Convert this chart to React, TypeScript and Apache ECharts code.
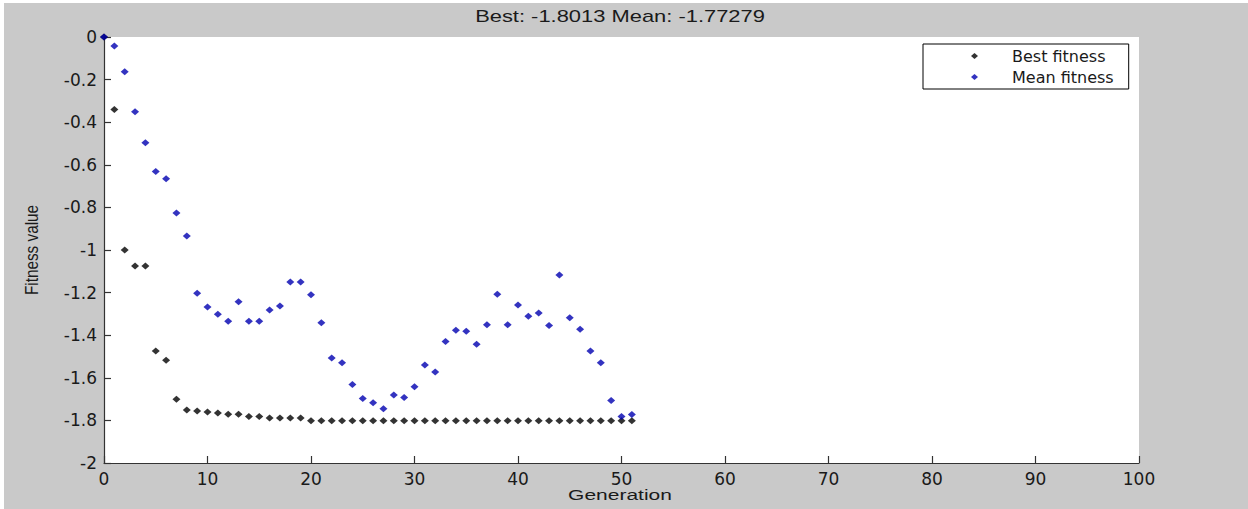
import React, { useEffect, useRef } from "react";
import * as echarts from "echarts";

const titleText = "Best: -1.8013 Mean: -1.77279";
const xName = "Generation";
const yName = "Fitness value";
const seriesNames = ["Best fitness", "Mean fitness"];

const bestFitness = [
  0, -0.34, -1.0, -1.075, -1.075, -1.474, -1.518, -1.701, -1.751, -1.756,
  -1.761, -1.765, -1.771, -1.771, -1.782, -1.782, -1.789, -1.789, -1.789, -1.789,
  -1.8013, -1.8013, -1.8013, -1.8013, -1.8013, -1.8013, -1.8013, -1.8013, -1.8013, -1.8013,
  -1.8013, -1.8013, -1.8013, -1.8013, -1.8013, -1.8013, -1.8013, -1.8013, -1.8013, -1.8013,
  -1.8013, -1.8013, -1.8013, -1.8013, -1.8013, -1.8013, -1.8013, -1.8013, -1.8013, -1.8013,
  -1.8013, -1.8013,
];

const meanFitness = [
  0, -0.042, -0.163, -0.351, -0.496, -0.632, -0.665, -0.826, -0.934, -1.203,
  -1.268, -1.302, -1.335, -1.243, -1.335, -1.335, -1.282, -1.263, -1.15, -1.15,
  -1.21, -1.341, -1.507, -1.529, -1.631, -1.697, -1.717, -1.745, -1.681, -1.692,
  -1.642, -1.54, -1.573, -1.43, -1.377, -1.382, -1.443, -1.351, -1.208, -1.351,
  -1.258, -1.311, -1.296, -1.355, -1.117, -1.318, -1.372, -1.474, -1.529, -1.707,
  -1.782, -1.77279,
];

export default function App() {
  const ref = useRef<HTMLDivElement>(null);

  useEffect(() => {
    if (!ref.current) return;
    document.body.style.margin = "0";
    document.body.style.overflow = "hidden";
    const chart = echarts.init(ref.current, undefined, { renderer: "svg" });
    const labelFont = "'DejaVu Sans', sans-serif";
    chart.setOption({
      animation: false,
      backgroundColor: "#c9c9c9",
      graphic: [
        { type: "rect", left: 0, top: 0, shape: { width: 1248, height: 3 }, style: { fill: "#ffffff" }, silent: true },
        { type: "rect", left: 0, top: 0, shape: { width: 4, height: 509 }, style: { fill: "#ffffff" }, silent: true },
        {
          type: "text",
          x: 620,
          y: 17,
          scaleX: 1.37,
          style: {
            text: titleText,
            font: "16px 'Liberation Sans', Arial, sans-serif",
            fill: "#1a1a1a",
            align: "center",
            verticalAlign: "middle",
          },
        },
        {
          type: "text",
          x: 620,
          y: 495,
          scaleX: 1.4,
          style: {
            text: xName,
            font: "15px 'Liberation Sans', Arial, sans-serif",
            fill: "#1a1a1a",
            align: "center",
            verticalAlign: "middle",
          },
        },
        {
          type: "text",
          x: 32,
          y: 250,
          rotation: Math.PI / 2,
          scaleX: 0.85,
          style: {
            text: yName,
            font: "18px 'Liberation Sans', Arial, sans-serif",
            fill: "#1a1a1a",
            align: "center",
            verticalAlign: "middle",
          },
        },
      ],
      grid: {
        left: 104,
        top: 37,
        right: 109,
        bottom: 46,
        show: true,
        backgroundColor: "#ffffff",
        borderWidth: 0,
      },
      legend: {
        orient: "vertical",
        left: 923,
        top: 44,
        padding: [4, 15, 4, 48],
        itemWidth: 7,
        itemHeight: 6,
        itemGap: 5,
        backgroundColor: "#ffffff",
        borderColor: "#000000",
        borderWidth: 1,
        borderRadius: 0,
        textStyle: {
          fontFamily: labelFont,
          fontSize: 16,
          color: "#1a1a1a",
          lineHeight: 16,
          padding: [0, 0, 0, 29],
        },
        data: [
          { name: seriesNames[0], icon: "diamond" },
          { name: seriesNames[1], icon: "diamond" },
        ],
      },
      xAxis: {
        type: "value",
        min: 0,
        max: 100,
        interval: 10,
        splitLine: { show: false },
        axisLine: { show: true, onZero: false, lineStyle: { color: "#333", width: 1.2 } },
        axisTick: { show: true, inside: true, length: 7, lineStyle: { color: "#333", width: 1.2 } },
        axisLabel: { fontFamily: labelFont, fontSize: 17, color: "#1a1a1a", margin: 7 },
      },
      yAxis: {
        type: "value",
        min: -2,
        max: 0,
        interval: 0.2,
        splitLine: { show: false },
        axisLine: { show: true, onZero: false, lineStyle: { color: "#333", width: 1.2 } },
        axisTick: { show: true, inside: true, length: 7, lineStyle: { color: "#333", width: 1.2 } },
        axisLabel: {
          fontFamily: labelFont,
          fontSize: 17,
          color: "#1a1a1a",
          margin: 7,
          formatter: (v: number) => String(Math.round(v * 10) / 10),
        },
      },
      series: [
        {
          name: seriesNames[0],
          type: "scatter",
          symbol: "diamond",
          symbolSize: [8, 7],
          itemStyle: { color: "#000000" },
          data: bestFitness.map((v, i) => [i, v]),
        },
        {
          name: seriesNames[1],
          type: "scatter",
          symbol: "diamond",
          symbolSize: [8, 7],
          itemStyle: { color: "#0000b0" },
          data: meanFitness.map((v, i) => [i, v]),
        },
      ],
    });
    return () => chart.dispose();
  }, []);

  return (
    <div
      ref={ref}
      style={{ position: "fixed", left: 0, top: 0, width: 1248, height: 509 }}
    />
  );
}
